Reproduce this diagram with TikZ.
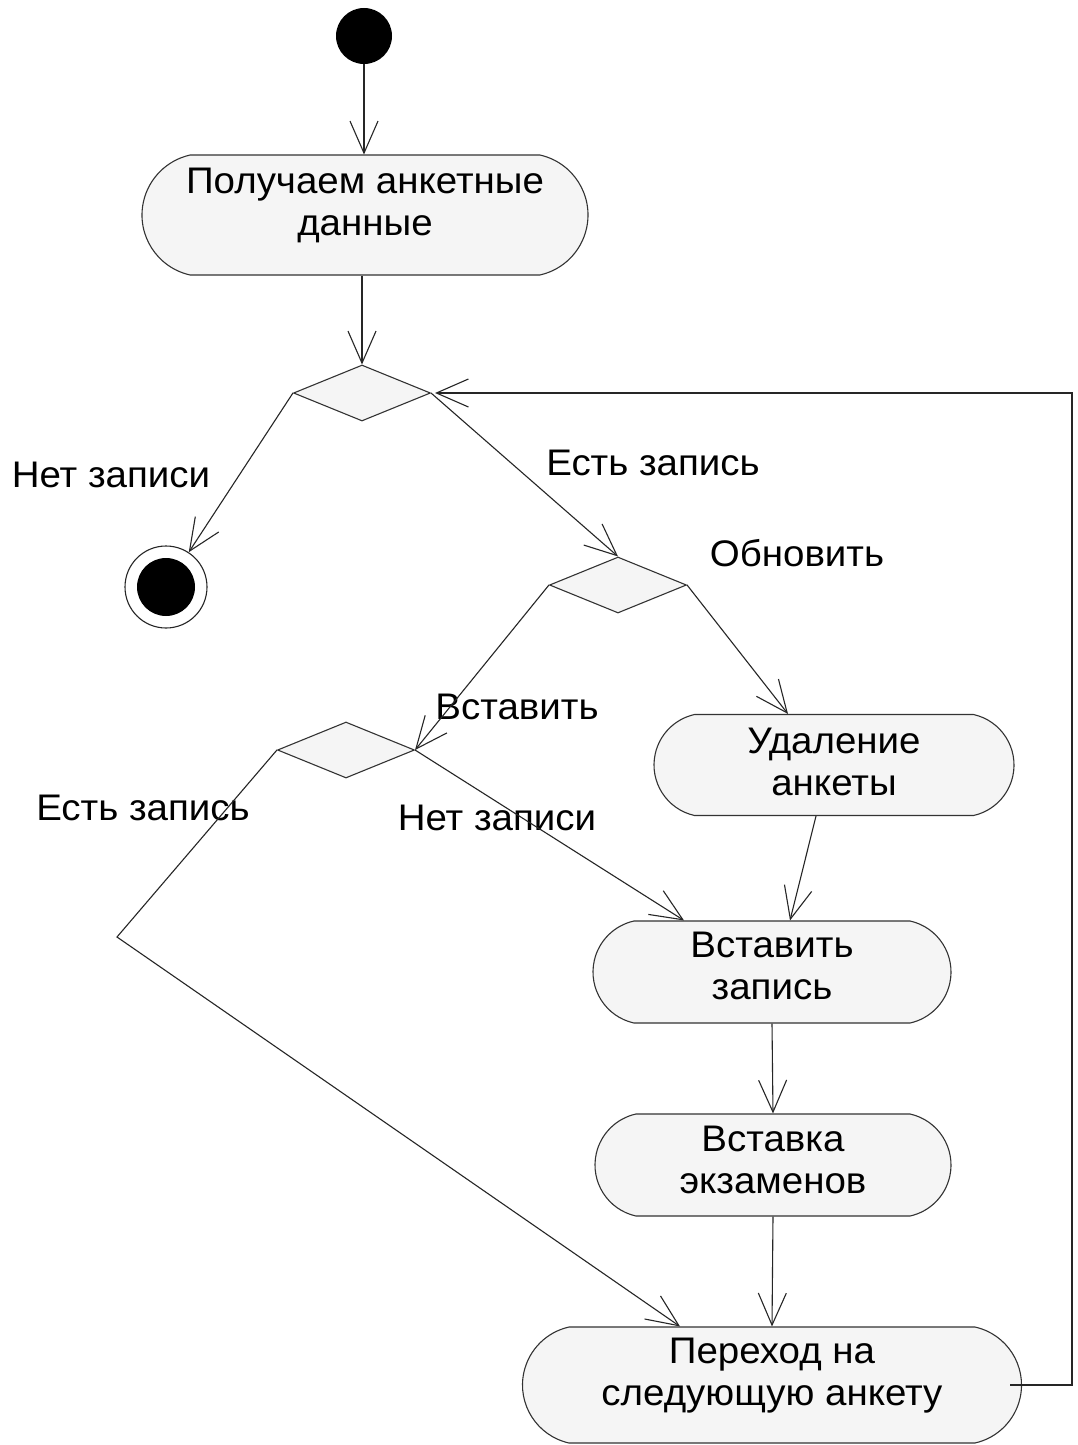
\documentclass[tikz,border=0pt]{standalone}
\usepackage{fontspec}
\setmainfont[FakeStretch=1.04]{Liberation Sans}
\usetikzlibrary{arrows.meta,shapes.geometric,shapes.misc}

\begin{document}
\begin{tikzpicture}[x=1pt,y=-1pt,
  font=\fontsize{37}{42}\selectfont,
  line/.style={draw=black!85, line width=1.1pt},
  arr/.style={line, -{Straight Barb[length=32pt,width=28pt]}},
  act/.style={rounded rectangle, rounded rectangle arc length=155,
    draw=black!80, line width=1.1pt, fill=black!4, align=center, inner sep=0pt},
  dec/.style={diamond, aspect=2.43, draw=black!80, line width=1.1pt, fill=black!4,
    inner sep=0pt, minimum width=137pt, minimum height=56pt},
  lbl/.style={inner sep=0pt}]

% canvas
\fill[white] (0,0) rectangle (1077,1445);
\useasboundingbox (0,0) rectangle (1077,1445);

% start and final states
\node[circle, fill=black, minimum size=56pt, inner sep=0pt] (start) at (364,36) {};
\node[circle, draw=black!85, line width=1.1pt, minimum size=82pt, inner sep=0pt] (fin) at (166,587) {};
\node[circle, fill=black, minimum size=58pt, inner sep=0pt] (findot) at (fin) {};

% activities (text depth lifts the two text lines inside each box)
\node[act, minimum width=446pt, minimum height=120pt, text depth=27pt] (A1) at (365,215) {Получаем анкетные\\данные};
\node[act, minimum width=360pt, minimum height=101pt, text depth=6pt] (A2) at (834,765) {Удаление\\анкеты};
\node[act, minimum width=358pt, minimum height=102pt, text depth=12pt] (A3) at (772,972) {Вставить\\запись};
\node[act, minimum width=356pt, minimum height=102pt, text depth=10pt] (A4) at (773,1165) {Вставка\\экзаменов};
\node[act, minimum width=499pt, minimum height=116pt, text depth=26pt] (A5) at (772,1385) {Переход на\\следующую анкету};

% decisions
\node[dec] (D1) at (362,393) {};
\node[dec] (D2) at (618,585) {};
\node[dec] (D3) at (346,750) {};

% guard labels
\node[lbl] (g1) at (111,475) {Нет записи};
\node[lbl] (g2) at (653,463) {Есть запись};
\node[lbl] (g3) at (797,553) {Обновить};
\node[lbl] (g4) at (517,707) {Вставить};
\node[lbl] (g5) at (143,808) {Есть запись};
\node[lbl] (g6) at (497,818) {Нет записи};

% bend points
\coordinate (bend) at (117,937);
\coordinate (loopB) at (1072,1385);
\coordinate (loopT) at (1072,393);

% transitions
\draw[arr] (start) -- (start |- A1.north);
\draw[arr] (A1.south -| D1.north) -- (D1.north);
\draw[arr] (D1.west) -- (fin);
\draw[arr] (D1.east) -- (D2.north);
\draw[arr] (D2.east) -- ([xshift=-46pt]A2.north);
\draw[arr] (D2.west) -- (D3.east);
\draw[arr] (D3.east) -- ([xshift=-88pt]A3.north);
\draw[arr] ([xshift=-18pt]A2.south) -- ([xshift=18pt]A3.north);
\draw[arr] (A3.south) -- (A4.north);
\draw[arr] (A4.south) -- (A5.north);
\draw[arr] (D3.west) -- (bend) -- ([xshift=-92pt]A5.north);
\draw[arr] ([xshift=-12pt]A5.east) -- (loopB) -- (loopT) -- ([xshift=4pt]D1.east);
\end{tikzpicture}
\end{document}
